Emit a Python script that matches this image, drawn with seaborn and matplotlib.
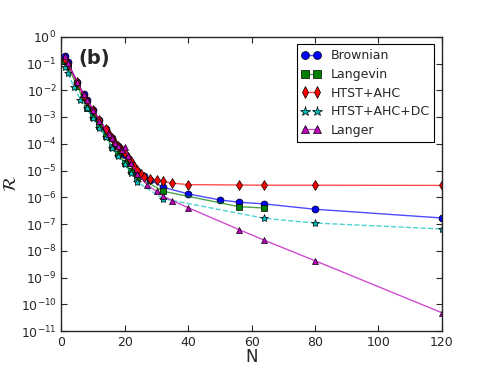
import matplotlib
matplotlib.use('Agg')
import matplotlib.pyplot as plt
import seaborn as sns
from matplotlib.ticker import LogLocator, NullLocator

# Data (N vs rate ratio R)
brownian_n = [1, 2, 5, 7, 8, 10, 12, 14, 16, 18, 20, 22, 24, 26, 28, 32, 40, 50, 56, 64, 80, 120]
brownian_r = [0.20, 0.11, 0.02, 7e-3, 4.5e-3, 1.9e-3, 8e-4, 3.5e-4, 1.6e-4, 8e-5, 3.8e-5,
              1.9e-5, 1.0e-5, 6.5e-6, 4.5e-6, 2.4e-6, 1.35e-6, 8e-7, 6.6e-7, 5.7e-7, 3.6e-7, 1.7e-7]

langevin_n = [1, 2, 5, 8, 10, 12, 14, 16, 18, 20, 22, 24, 32, 56, 64]
langevin_r = [0.13, 0.08, 0.015, 2.2e-3, 1.0e-3, 4.5e-4, 2.0e-4, 7.5e-5, 4.2e-5, 1.9e-5,
              1.0e-5, 6e-6, 1.7e-6, 4.5e-7, 4.0e-7]

htst_n = [1, 2, 5, 7, 8, 10, 12, 14, 15, 16, 17, 18, 19, 20, 21, 22, 23, 24, 25, 26, 28,
          30, 32, 35, 40, 56, 64, 80, 120]
htst_r = [0.15, 0.10, 0.02, 6e-3, 4e-3, 1.8e-3, 7.5e-4, 3.5e-4, 2.4e-4, 1.6e-4, 1.1e-4,
          8e-5, 6e-5, 4.5e-5, 3.2e-5, 2.2e-5, 1.5e-5, 1.1e-5, 7.5e-6, 6e-6, 5e-6,
          4.5e-6, 4e-6, 3.4e-6, 3.0e-6, 2.9e-6, 2.85e-6, 2.85e-6, 2.8e-6]

htst_dc_n = [1, 2, 4, 6, 8, 10, 12, 14, 16, 18, 20, 22, 24, 32, 64, 80, 120]
htst_dc_r = [0.075, 0.045, 0.013, 4.5e-3, 2.1e-3, 9e-4, 4e-4, 1.8e-4, 7e-5, 3.5e-5, 1.7e-5,
             8e-6, 3.7e-6, 9e-7, 1.65e-7, 1.1e-7, 6.6e-8]

langer_n = [1, 2, 5, 7, 8, 10, 12, 15, 16, 17, 18, 19, 20, 21, 22, 24, 27, 30, 32, 35, 40,
            56, 64, 80, 120]
langer_r = [0.19, 0.105, 0.021, 7.2e-3, 4.4e-3, 1.9e-3, 7.4e-4, 2.3e-4, 1.6e-4, 1.05e-4,
            8e-5, 6e-5, 7.4e-5, 3.5e-5, 1.95e-5, 7.6e-6, 3.0e-6, 1.66e-6, 1.12e-6, 7.6e-7,
            4.1e-7, 6.3e-8, 2.5e-8, 4.3e-9, 4.9e-11]

series = [
    ('Brownian', brownian_n, brownian_r, (0, 0, 1), 'o', '-'),
    ('Langevin', langevin_n, langevin_r, (0, 0.5, 0), 's', '-'),
    ('HTST+AHC', htst_n, htst_r, (1, 0, 0), 'd', '-'),
    ('HTST+AHC+DC', htst_dc_n, htst_dc_r, (0, 0.75, 0.75), '*', '--'),
    ('Langer', langer_n, langer_r, (0.75, 0, 0.75), '^', '-'),
]

sns.set_style('ticks')
plt.rcParams['font.family'] = ['DejaVu Sans']

fig, ax = plt.subplots(figsize=(4.91, 3.68), dpi=100)
fig.subplots_adjust(left=0.125, right=0.9, bottom=0.1, top=0.9)

for name, n, r, col, mk, ls in series:
    line_col = col + (0.7,)
    sns.lineplot(x=n, y=r, ax=ax, color=line_col, linestyle=ls, linewidth=1.0,
                 marker=mk, markersize=5 if mk != '*' else 6,
                 markerfacecolor=col, markeredgecolor='k', markeredgewidth=0.5,
                 label=name, sort=False)

ax.set_yscale('log')
ax.set_xlim(0, 120)
ax.set_ylim(1e-11, 1)
ax.yaxis.set_major_locator(LogLocator(base=10, numticks=20))
ax.yaxis.set_minor_locator(NullLocator())
ax.set_xticks([0, 20, 40, 60, 80, 100, 120])
ax.tick_params(direction='in', top=True, right=True, labelsize=9, length=4, width=0.8)
for s in ax.spines.values():
    s.set_visible(True)
    s.set_linewidth(1.0)

ax.set_xlabel('N', fontsize=12, labelpad=-1)
ax.set_ylabel(r'$\mathcal{R}$', fontsize=13)
ax.yaxis.set_label_coords(-0.11, 0.5)
ax.text(0.045, 0.925, '(b)', transform=ax.transAxes, fontsize=14,
        fontweight='bold', ha='left', va='center')

leg = ax.legend(loc='upper right', numpoints=2, fontsize=9, fancybox=False,
                framealpha=1, edgecolor='k', handlelength=1.5, labelspacing=0.45,
                borderaxespad=0.6, markerscale=1.15)
leg.get_frame().set_linewidth(0.8)

plt.savefig('out.png', dpi=100)
